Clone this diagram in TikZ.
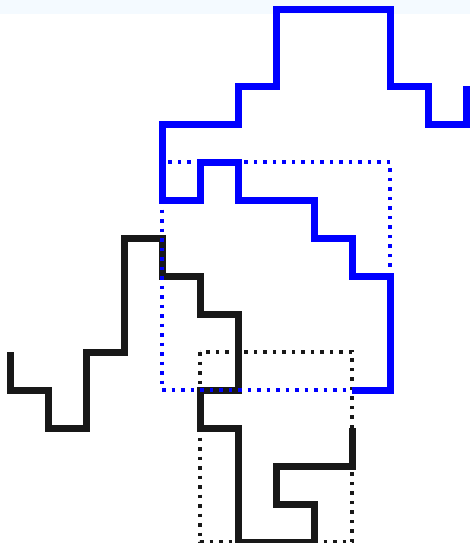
\documentclass[tikz,border=0pt]{standalone}
\definecolor{bandcol}{RGB}{244,250,255}
\definecolor{darkline}{RGB}{24,24,24}
\begin{document}
\begin{tikzpicture}[x=1pt,y=-1pt,
  solidline/.style={line width=7pt,line join=miter,line cap=butt},
  dotline/.style={line width=3.5pt,dash pattern=on 3.5pt off 6pt,line cap=butt},
  myblack/.style={draw=darkline}]
\useasboundingbox (0,0) rectangle (470,543);
\fill[bandcol] (0,0) rectangle (470,14);
% black solid path
\draw[solidline,myblack] (10,352)--(10,390)--(48,390)--(48,428)--(86,428)--(86,352)--(124,352)--(124,238)--(162,238)--(162,276)--(200,276)--(200,314)--(238,314)--(238,390)--(200,390)--(200,428)--(238,428)--(238,542)--(314,542)--(314,504)--(276,504)--(276,466)--(352,466)--(352,428);
% black dotted rectangle
\draw[dotline,myblack] (200,352) rectangle (352,542);
% blue solid path
\draw[solidline,draw=blue] (466,86)--(466,124)--(428,124)--(428,86)--(390,86)--(390,10)--(276,10)--(276,86)--(238,86)--(238,124)--(162,124)--(162,200)--(200,200)--(200,162)--(238,162)--(238,200)--(314,200)--(314,238)--(352,238)--(352,276)--(390,276)--(390,390)--(352,390);
% blue dotted rectangle
\draw[dotline,draw=blue] (162,162) rectangle (390,390);
\end{tikzpicture}
\end{document}
